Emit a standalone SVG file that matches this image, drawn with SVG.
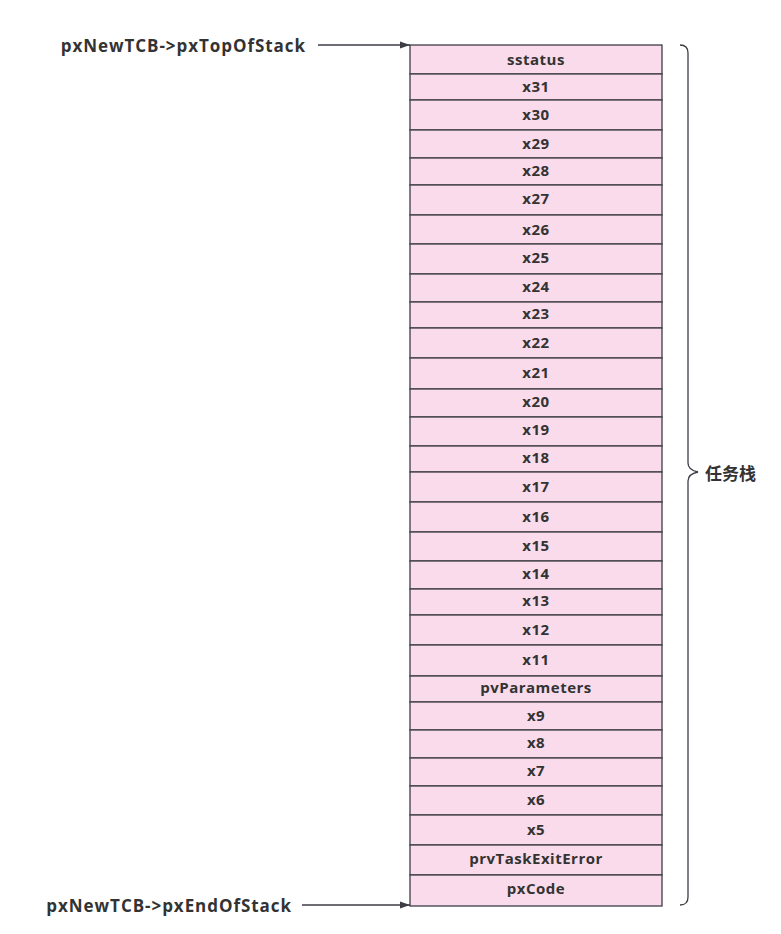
<svg xmlns="http://www.w3.org/2000/svg" width="781" height="934" viewBox="0 0 781 934">
<style>
.cell{fill:#f9dbeb;stroke:#3d3d45;stroke-width:1.3}
.t{font-family:"Open Sans","Noto Sans",sans-serif;font-weight:bold;font-size:15px;letter-spacing:0.5px;fill:#333;text-anchor:middle;dominant-baseline:central}
.lbl{font-family:"Open Sans","Noto Sans",sans-serif;font-weight:bold;font-size:17px;letter-spacing:0.95px;fill:#333;text-anchor:end;dominant-baseline:central}
.cjk{font-family:"Noto Sans CJK SC",sans-serif;font-weight:bold;font-size:17px;fill:#333;dominant-baseline:central}
.ln{fill:none;stroke:#3d3d45;stroke-width:1.3}
</style>
<defs>
<marker id="ah" viewBox="0 0 10 10" refX="10" refY="5" markerWidth="10" markerHeight="10" markerUnits="userSpaceOnUse" orient="auto">
<path d="M0,1.5 L10,5 L0,8.5 Z" fill="#3d3d45"/>
</marker>
</defs>
<g id="stack">
<g id="r0"><rect class="cell" x="410" y="45" width="252" height="29"/><text class="t" x="536" y="59">sstatus</text></g>
<g id="r1"><rect class="cell" x="410" y="74" width="252" height="26"/><text class="t" x="536" y="86">x31</text></g>
<g id="r2"><rect class="cell" x="410" y="100" width="252" height="30"/><text class="t" x="536" y="114">x30</text></g>
<g id="r3"><rect class="cell" x="410" y="130" width="252" height="28"/><text class="t" x="536" y="143">x29</text></g>
<g id="r4"><rect class="cell" x="410" y="158" width="252" height="27"/><text class="t" x="536" y="170">x28</text></g>
<g id="r5"><rect class="cell" x="410" y="185" width="252" height="30"/><text class="t" x="536" y="198">x27</text></g>
<g id="r6"><rect class="cell" x="410" y="215" width="252" height="29"/><text class="t" x="536" y="229">x26</text></g>
<g id="r7"><rect class="cell" x="410" y="244" width="252" height="30"/><text class="t" x="536" y="257">x25</text></g>
<g id="r8"><rect class="cell" x="410" y="274" width="252" height="28"/><text class="t" x="536" y="286">x24</text></g>
<g id="r9"><rect class="cell" x="410" y="302" width="252" height="26"/><text class="t" x="536" y="313">x23</text></g>
<g id="r10"><rect class="cell" x="410" y="328" width="252" height="30"/><text class="t" x="536" y="342">x22</text></g>
<g id="r11"><rect class="cell" x="410" y="358" width="252" height="31"/><text class="t" x="536" y="372">x21</text></g>
<g id="r12"><rect class="cell" x="410" y="389" width="252" height="28"/><text class="t" x="536" y="401">x20</text></g>
<g id="r13"><rect class="cell" x="410" y="417" width="252" height="29"/><text class="t" x="536" y="429">x19</text></g>
<g id="r14"><rect class="cell" x="410" y="446" width="252" height="26"/><text class="t" x="536" y="457">x18</text></g>
<g id="r15"><rect class="cell" x="410" y="472" width="252" height="30"/><text class="t" x="536" y="486">x17</text></g>
<g id="r16"><rect class="cell" x="410" y="502" width="252" height="30"/><text class="t" x="536" y="516">x16</text></g>
<g id="r17"><rect class="cell" x="410" y="532" width="252" height="29"/><text class="t" x="536" y="545">x15</text></g>
<g id="r18"><rect class="cell" x="410" y="561" width="252" height="28"/><text class="t" x="536" y="573">x14</text></g>
<g id="r19"><rect class="cell" x="410" y="589" width="252" height="26"/><text class="t" x="536" y="600">x13</text></g>
<g id="r20"><rect class="cell" x="410" y="615" width="252" height="30"/><text class="t" x="536" y="629">x12</text></g>
<g id="r21"><rect class="cell" x="410" y="645" width="252" height="31"/><text class="t" x="536" y="659">x11</text></g>
<g id="r22"><rect class="cell" x="410" y="676" width="252" height="26"/><text class="t" x="536" y="687">pvParameters</text></g>
<g id="r23"><rect class="cell" x="410" y="702" width="252" height="28"/><text class="t" x="536" y="715">x9</text></g>
<g id="r24"><rect class="cell" x="410" y="730" width="252" height="28"/><text class="t" x="536" y="742">x8</text></g>
<g id="r25"><rect class="cell" x="410" y="758" width="252" height="28"/><text class="t" x="536" y="770">x7</text></g>
<g id="r26"><rect class="cell" x="410" y="786" width="252" height="29"/><text class="t" x="536" y="799">x6</text></g>
<g id="r27"><rect class="cell" x="410" y="815" width="252" height="30"/><text class="t" x="536" y="829">x5</text></g>
<g id="r28"><rect class="cell" x="410" y="845" width="252" height="30"/><text class="t" x="536" y="858">prvTaskExitError</text></g>
<g id="r29"><rect class="cell" x="410" y="875" width="252" height="31"/><text class="t" x="536" y="888">pxCode</text></g>
</g>
<g id="top-label"><text class="lbl" x="306" y="45">pxNewTCB-&gt;pxTopOfStack</text></g>
<g id="end-label"><text class="lbl" x="292" y="905">pxNewTCB-&gt;pxEndOfStack</text></g>
<g id="brace-label"><text class="cjk" x="705" y="472">任务栈</text></g>
<g id="connectors">
<line class="ln" x1="318" y1="45" x2="410" y2="45" marker-end="url(#ah)"/>
<line class="ln" x1="302" y1="905" x2="410" y2="905" marker-end="url(#ah)"/>
<path class="ln" d="M680,45 Q688,45 688,53 L688,463 Q688,470 698,472 Q688,474 688,481 L688,897 Q688,905 680,905"/>
</g>
</svg>
